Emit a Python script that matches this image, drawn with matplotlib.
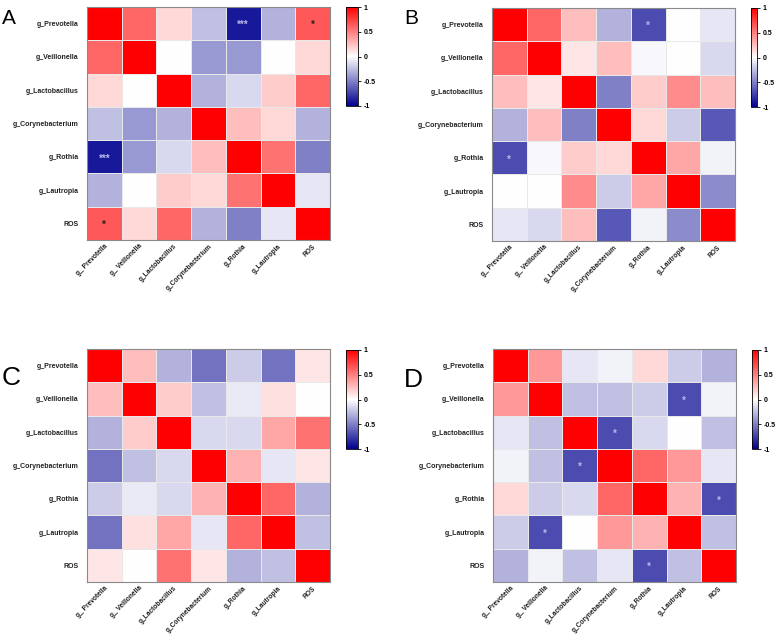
import matplotlib
matplotlib.use('Agg')
import numpy as np
import matplotlib.pyplot as plt
from matplotlib.colors import LinearSegmentedColormap

plt.rcParams['font.family'] = ['Liberation Sans', 'DejaVu Sans']

# ---------------- data ----------------
taxa = ['g_Prevotella', 'g_Veillonella', 'g_Lactobacillus', 'g_Corynebacterium',
        'g_Rothia', 'g_Lautropia', 'ROS']
x_labels = ['g_ Prevotella', 'g_ Veillonella', 'g_Lactobacillus', 'g_Corynebacterium',
            'g_Rothia', 'g_Lautropia', 'ROS']

corr_a = [[1.00, 0.60, 0.15, -0.25, -0.90, -0.30, 0.65],
          [0.60, 1.00, 0.00, -0.40, -0.40, 0.00, 0.15],
          [0.15, 0.00, 1.00, -0.30, -0.15, 0.20, 0.60],
          [-0.25, -0.40, -0.30, 1.00, 0.25, 0.15, -0.30],
          [-0.90, -0.40, -0.15, 0.25, 1.00, 0.55, -0.50],
          [-0.30, 0.00, 0.20, 0.15, 0.55, 1.00, -0.10],
          [0.65, 0.15, 0.60, -0.30, -0.50, -0.10, 1.00]]
corr_b = [[1.00, 0.60, 0.25, -0.30, -0.70, 0.00, -0.10],
          [0.60, 1.00, 0.10, 0.25, -0.03, 0.00, -0.15],
          [0.25, 0.10, 1.00, -0.50, 0.20, 0.45, 0.25],
          [-0.30, 0.25, -0.50, 1.00, 0.15, -0.20, -0.65],
          [-0.70, -0.03, 0.20, 0.15, 1.00, 0.35, -0.05],
          [0.00, 0.00, 0.45, -0.20, 0.35, 1.00, -0.45],
          [-0.10, -0.15, 0.25, -0.65, -0.05, -0.45, 1.00]]
corr_c = [[1.00, 0.25, -0.30, -0.55, -0.20, -0.55, 0.10],
          [0.25, 1.00, 0.20, -0.25, -0.08, 0.12, 0.00],
          [-0.30, 0.20, 1.00, -0.15, -0.15, 0.35, 0.55],
          [-0.55, -0.25, -0.15, 1.00, 0.30, -0.10, 0.10],
          [-0.20, -0.08, -0.15, 0.30, 1.00, 0.60, -0.30],
          [-0.55, 0.12, 0.35, -0.10, 0.60, 1.00, -0.25],
          [0.10, 0.00, 0.55, 0.10, -0.30, -0.25, 1.00]]
corr_d = [[1.00, 0.40, -0.10, -0.05, 0.15, -0.20, -0.30],
          [0.40, 1.00, -0.25, -0.25, -0.20, -0.70, -0.05],
          [-0.10, -0.25, 1.00, -0.70, -0.15, 0.00, -0.25],
          [-0.05, -0.25, -0.70, 1.00, 0.60, 0.40, -0.10],
          [0.15, -0.20, -0.15, 0.60, 1.00, 0.30, -0.70],
          [-0.20, -0.70, 0.00, 0.40, 0.30, 1.00, -0.25],
          [-0.30, -0.05, -0.25, -0.10, -0.70, -0.25, 1.00]]

# significance marks: (row, col, text)
sig_a = [(0, 4, '***'), (4, 0, '***'), (0, 6, '*'), (6, 0, '*')]
sig_b = [(0, 4, '*'), (4, 0, '*')]
sig_c = []
sig_d = [(1, 5, '*'), (5, 1, '*'), (2, 3, '*'), (3, 2, '*'), (4, 6, '*'), (6, 4, '*')]

panels = ['A', 'B', 'C', 'D']
matrices = [corr_a, corr_b, corr_c, corr_d]
sigs = [sig_a, sig_b, sig_c, sig_d]

# ---------------- layout ----------------
W, H = 778, 638
heat_px = [(87, 7), (492, 8), (87, 349), (493, 349)]   # left, top
cbar_px = [(346, 7, 12), (751, 8, 6), (346, 350, 12), (752, 350, 6)]
letter_px = [(2, 24, 15), (404, 24, 15), (2, 385, 19), (404, 387, 19)]
hw, hh = 243, 233

cmap = LinearSegmentedColormap.from_list('bwr_p', ['#00008f', '#ffffff', '#ff0000'])

fig = plt.figure(figsize=(W / 100, H / 100), dpi=100)

for k in range(4):
    data = np.array(matrices[k])
    n = len(taxa)
    lx, ty = heat_px[k]
    ax = fig.add_axes([lx / W, 1 - (ty + hh) / H, hw / W, hh / H])
    mesh = ax.pcolormesh(data, cmap=cmap, vmin=-1, vmax=1,
                         edgecolors='#e8e8e8', linewidth=0.5)
    ax.set_xlim(0, n)
    ax.set_ylim(n, 0)
    ax.set_xticks(np.arange(n) + 0.5)
    ax.set_yticks(np.arange(n) + 0.5)
    ax.set_xticklabels(x_labels, rotation=45, ha='right', rotation_mode='anchor',
                       fontsize=4.8, fontweight='bold', color='#222222')
    ax.set_yticklabels(taxa, fontsize=5, fontweight='bold', color='#222222')
    ax.tick_params(axis='y', length=0, pad=6)
    ax.tick_params(axis='x', length=0, pad=2)
    for s in ax.spines.values():
        s.set_color('#8a8a8a')
        s.set_linewidth(0.8)

    for (r, c, txt) in sigs[k]:
        col = '#222222' if data[r, c] > 0 else '#b8b8e8'
        ax.text(c + 0.5, r + 0.55, txt, ha='center', va='center',
                fontsize=7, fontweight='bold', color=col)

    cx, cy, cw = cbar_px[k]
    cax = fig.add_axes([cx / W, 1 - (cy + 99) / H, cw / W, 99 / H])
    cb = fig.colorbar(mesh, cax=cax, ticks=[-1, -0.5, 0, 0.5, 1])
    cb.ax.set_yticklabels(['-1', '-0.5', '0', '0.5', '1'])
    cb.ax.tick_params(labelsize=5, length=2, width=0.6, pad=2)
    for t in cb.ax.get_yticklabels():
        t.set_fontweight('bold')
    cb.outline.set_linewidth(0.6)

    bx, by, fs = letter_px[k]
    fig.text(bx / W, 1 - by / H, panels[k], fontsize=fs, ha='left', va='baseline')

fig.savefig('out.png', dpi=100)
